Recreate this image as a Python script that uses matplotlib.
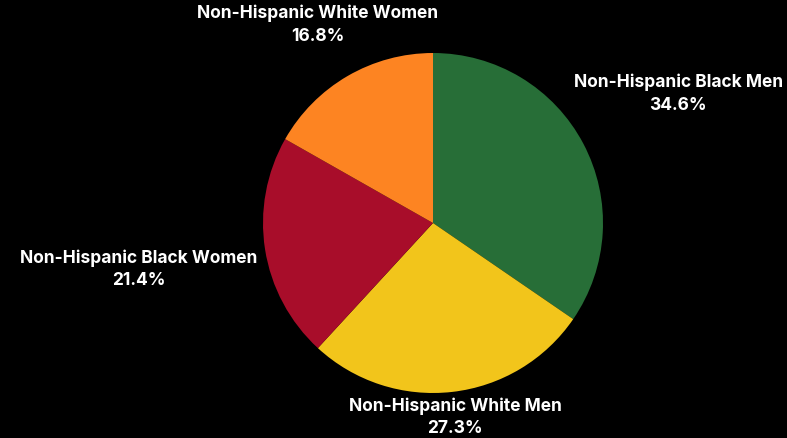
import matplotlib.pyplot as plt
import numpy as np

categories = ['Non-Hispanic Black Men', 'Non-Hispanic White Men',
              'Non-Hispanic Black Women', 'Non-Hispanic White Women']
shares = [34.6, 27.3, 21.4, 16.8]
colors = ['#276e37', '#f2c51b', '#a80d2a', '#fd8422']
# how far out each label sits, in pie radii
label_dist = [1.63, 1.15, 1.75, 1.35]

plt.rcParams['font.family'] = ['Inter', 'DejaVu Sans']

fig = plt.figure(figsize=(7.87, 4.38), dpi=100, facecolor='black')
ax = fig.add_axes([0, 0, 1, 1])
ax.set_facecolor('black')

wedges, _ = ax.pie(shares, colors=colors, startangle=90, counterclock=False,
                   radius=1, wedgeprops=dict(linewidth=0))

for w, name, val, d in zip(wedges, categories, shares, label_dist):
    mid = np.deg2rad((w.theta1 + w.theta2) / 2)
    ax.text(d * np.cos(mid), d * np.sin(mid), f'{name}\n{val}%',
            ha='center', va='center', color='white', fontsize=12.5,
            fontweight='bold', linespacing=1.42)

r = 170
ax.set_xlim(-433 / r, 354 / r)
ax.set_ylim(-215 / r, 223 / r)
ax.set_aspect('auto')
ax.axis('off')

fig.savefig('out.png', dpi=100, facecolor='black')
